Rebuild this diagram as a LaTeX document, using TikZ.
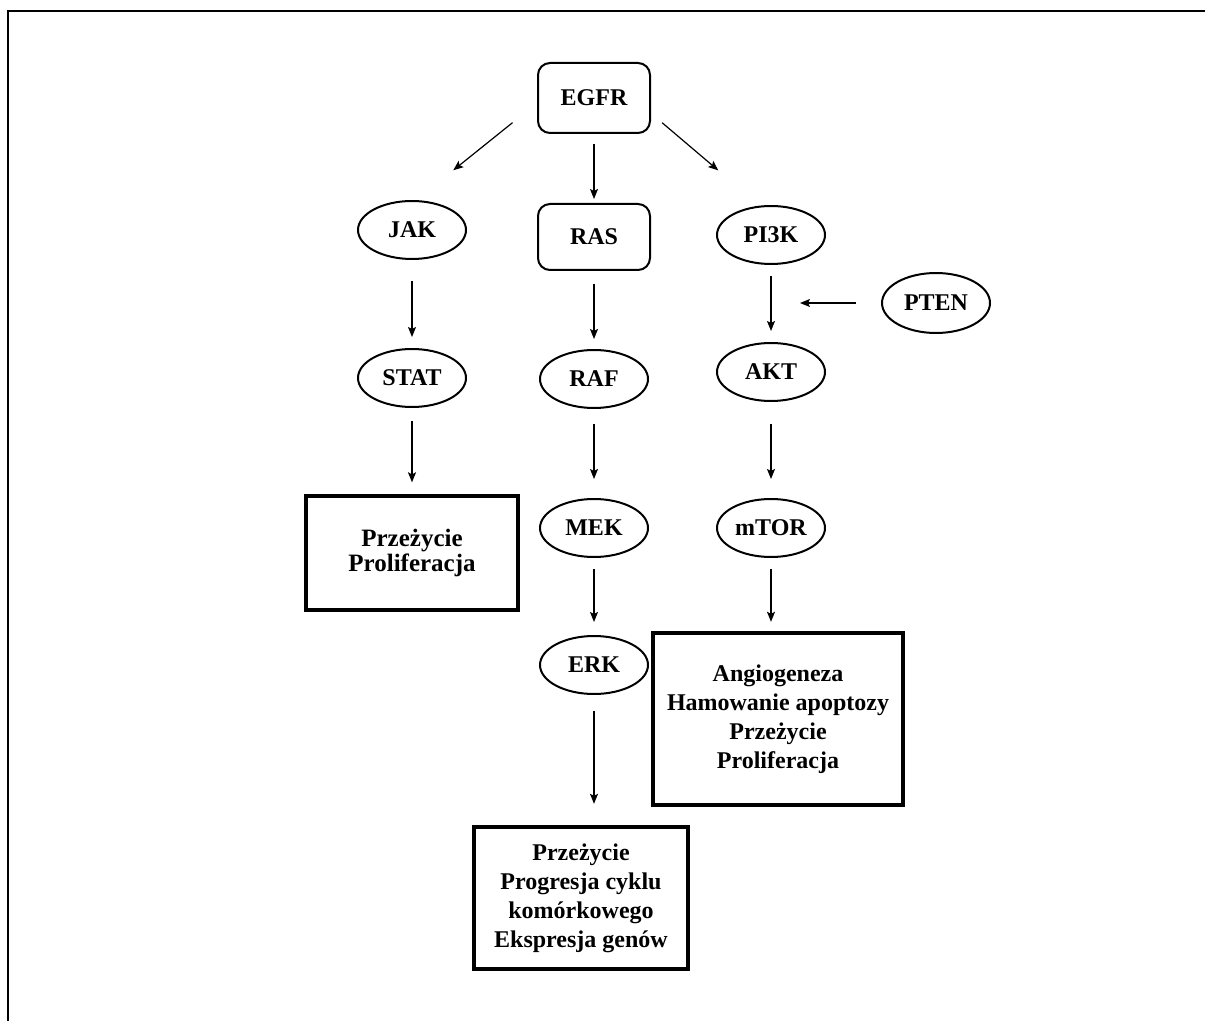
\documentclass[tikz,border=0pt]{standalone}
\usepackage{fontspec}
\setmainfont{Liberation Serif}
\usepackage{tikz}
\usetikzlibrary{arrows.meta}
\usetikzlibrary{shapes.geometric}

\begin{document}
\begin{tikzpicture}[
  x=0.5pt, y=-0.5pt,
  font=\fontsize{12}{14.5}\selectfont\bfseries
]
\tikzset{
    signode/.style = {rectangle, rounded corners=6pt, draw=black, line width=1pt, align=center, minimum width=56pt, minimum height=34pt},
    protnode/.style = {ellipse, draw=black, line width=1pt, inner sep=0pt, minimum width=54pt, minimum height=29pt},
    effectbox/.style = {rectangle, draw=black, line width=2.2pt, align=center},
    sigarrow/.style = {-{Stealth[length=5pt,width=4pt,inset=1pt]}, line width=0.6pt},
}
\useasboundingbox (0,0) rectangle (1205,1021);
\draw[line width=0.75pt] (8,1021) -- (8,11) -- (1205,11);

% receptor and first level
\node[signode, minimum height=35pt] (egfr) at (594,98) {EGFR};
\node[signode, minimum height=33pt] (ras) at (594,237) {RAS};
\node[protnode] (jak) at (412,230) {JAK};
\node[protnode] (pik) at (771,235) {PI3K};
\node[protnode, minimum height=30pt] (pten) at (936,303) {PTEN};
\coordinate (block) at (800,303);

% kinases
\node[protnode] (stat) at (412,378) {STAT};
\node[protnode] (raf) at (594,379) {RAF};
\node[protnode] (akt) at (771,372) {AKT};
\node[protnode] (mek) at (594,528) {MEK};
\node[protnode] (mtor) at (771,528) {mTOR};
\node[protnode] (erk) at (594,665) {ERK};

% effects
\node[effectbox, minimum width=106pt, minimum height=57pt, font=\fontsize{12.5}{11}\selectfont\bfseries] (effjak) at (412,553) {Przeżycie\\Proliferacja};
\node[effectbox, minimum width=125pt, minimum height=86pt] (effpik) at (778,719) {Angiogeneza\\Hamowanie apoptozy\\Przeżycie\\Proliferacja};
\node[effectbox, minimum width=107pt, minimum height=71pt] (efferk) at (581,898) {Przeżycie\\Progresja cyklu\\komórkowego\\Ekspresja genów};

\draw[sigarrow, shorten <=15.7pt, shorten >=23.8pt] (egfr.185) -- (jak.82);
\draw[sigarrow, shorten <=5pt, shorten >=2pt] (egfr.south) -- (ras.north);
\draw[sigarrow, shorten <=7.3pt, shorten >=27.2pt] (egfr.345.5) -- (pik.111.4);

\draw[sigarrow, shorten <=10.5pt, shorten >=5.5pt] (jak.south) -- (stat.north);
\draw[sigarrow, shorten <=6.5pt, shorten >=5.75pt] (stat.south) -- (effjak.north);

\draw[sigarrow, shorten <=6.5pt, shorten >=5pt] (ras.south) -- (raf.north);
\draw[sigarrow, shorten <=7.5pt, shorten >=9.5pt] (raf.south) -- (mek.north);
\draw[sigarrow, shorten <=5.5pt, shorten >=6.5pt] (mek.south) -- (erk.north);
\draw[sigarrow, shorten <=8pt, shorten >=10.5pt] (erk.south) -- (erk.south |- efferk.north);

\draw[sigarrow, shorten <=5.5pt, shorten >=5.5pt] (pik.south) -- (akt.north);
\draw[sigarrow, shorten <=12.5pt] (pten.west) -- (block);
\draw[sigarrow, shorten <=11pt, shorten >=9.5pt] (akt.south) -- (mtor.north);
\draw[sigarrow, shorten <=5.5pt, shorten >=4.5pt] (mtor.south) -- (mtor.south |- effpik.north);
\end{tikzpicture}
\end{document}
